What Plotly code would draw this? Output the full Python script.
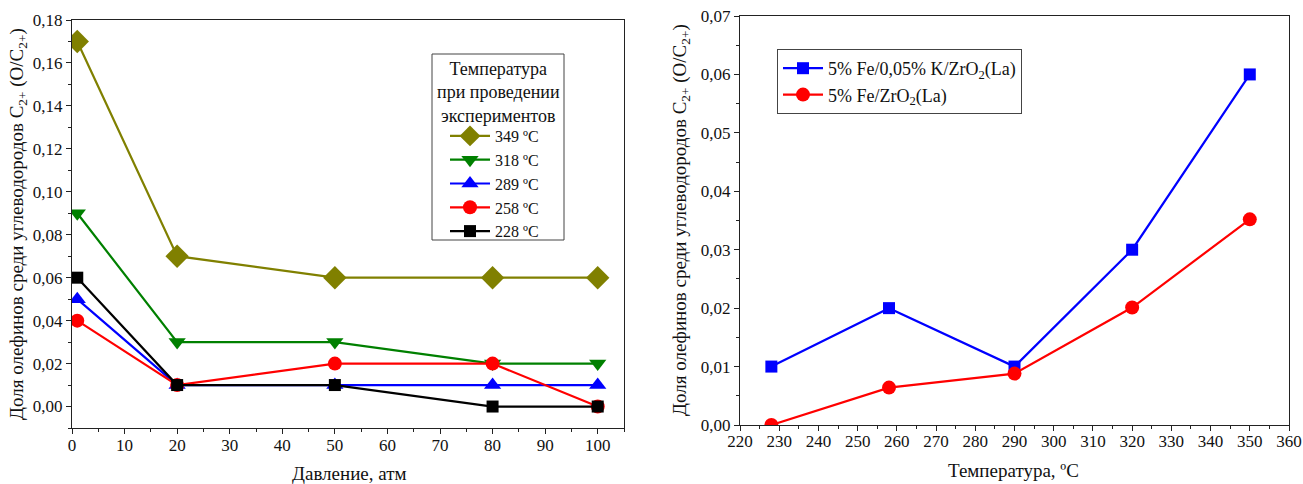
import plotly.graph_objects as go

# Left panel: olefin fraction vs pressure, one series per temperature
pressure = [1, 20, 50, 80, 100]
temp_labels = ["349 ºC", "318 ºC", "289 ºC", "258 ºC", "228 ºC"]
olefin_349 = [0.17, 0.07, 0.06, 0.06, 0.06]
olefin_318 = [0.09, 0.03, 0.03, 0.02, 0.02]
olefin_289 = [0.05, 0.01, 0.01, 0.01, 0.01]
olefin_258 = [0.04, 0.01, 0.02, 0.02, 0.00]
olefin_228 = [0.06, 0.01, 0.01, 0.00, 0.00]

# Right panel: olefin fraction vs temperature for two catalysts
temperature = [228, 258, 290, 320, 350]
cat_labels = ["5% Fe/0,05% K/ZrO<sub>2</sub>(La)", "5% Fe/ZrO<sub>2</sub>(La)"]
olefin_fe_k = [0.01, 0.02, 0.01, 0.03, 0.06]
olefin_fe = [0.0, 0.0064, 0.0088, 0.0201, 0.0352]

FONT = "Liberation Serif"
W, H = 1303, 484


def px(x):
    return x / W


def py(y):
    return 1 - y / H


fig = go.Figure()

left_series = [
    (olefin_349, "#808000", "diamond", 18),
    (olefin_318, "#008000", "triangle-down", 15),
    (olefin_289, "#0000FF", "triangle-up", 15),
    (olefin_258, "#FF0000", "circle", 14),
    (olefin_228, "#000000", "square", 12),
]
for (vals, color, sym, size), name in zip(left_series, temp_labels):
    fig.add_trace(go.Scatter(
        x=pressure, y=vals, name=name, mode="lines+markers",
        line=dict(color=color, width=2.2),
        marker=dict(color=color, symbol=sym, size=size),
        xaxis="x", yaxis="y", legend="legend",
    ))

right_series = [
    (olefin_fe_k, "#0000FF", "square", 12),
    (olefin_fe, "#FF0000", "circle", 14),
]
for (vals, color, sym, size), name in zip(right_series, cat_labels):
    fig.add_trace(go.Scatter(
        x=temperature, y=vals, name=name, mode="lines+markers",
        line=dict(color=color, width=2.2),
        marker=dict(color=color, symbol=sym, size=size),
        xaxis="x2", yaxis="y2", legend="legend2",
    ))

ytitle = "Доля олефинов среди углеводородов C<sub>2+</sub> (O/C<sub>2+</sub>)"

axis_common = dict(
    showline=True, linecolor="#222", linewidth=1.3, mirror=True,
    ticks="outside", ticklen=5, tickwidth=1.2, tickcolor="#222",
    showgrid=False, zeroline=False, automargin=False,
    tickfont=dict(family=FONT, size=17, color="#111"),
)
minor_common = dict(ticks="outside", ticklen=3, tickcolor="#222")

# Left plot area in pixels: x 72..624, y 20..428
# Right plot area in pixels: x 740..1289, y 16..425
fig.update_layout(
    width=W, height=H,
    margin=dict(l=0, r=0, t=0, b=0),
    paper_bgcolor="white", plot_bgcolor="white",
    separators=",.",
    font=dict(family=FONT, color="#111"),
    xaxis=dict(
        domain=[px(72), px(624)], range=[0, 105], anchor="y",
        tickmode="linear", tick0=0, dtick=10, ticklabelstandoff=-4,
        minor=dict(dtick=5, tick0=0, **minor_common),
        **axis_common,
    ),
    yaxis=dict(
        domain=[py(428), py(20)], range=[-0.01, 0.18], anchor="x",
        tickmode="linear", tick0=0, dtick=0.02, tickformat=".2f",
        minor=dict(dtick=0.01, tick0=0, **minor_common),
        **axis_common,
    ),
    xaxis2=dict(
        domain=[px(740), px(1289)], range=[220, 360], anchor="y2",
        tickmode="linear", tick0=220, dtick=10, ticklabelstandoff=-5,
        minor=dict(dtick=5, tick0=220, **minor_common),
        **axis_common,
    ),
    yaxis2=dict(
        domain=[py(425), py(16)], range=[0, 0.07], anchor="x2",
        tickmode="linear", tick0=0, dtick=0.01, tickformat=".2f",
        minor=dict(dtick=0.005, tick0=0, **minor_common),
        **axis_common,
    ),
    legend=dict(
        x=px(445), y=py(119), xanchor="left", yanchor="top",
        bgcolor="rgba(0,0,0,0)", borderwidth=0,
        font=dict(family=FONT, size=16, color="#111"),
        tracegroupgap=0, itemwidth=40,
    ),
    legend2=dict(
        x=px(777), y=py(49), xanchor="left", yanchor="top",
        bgcolor="white", bordercolor="#444", borderwidth=1,
        font=dict(family=FONT, size=18, color="#111"),
        tracegroupgap=0, itemwidth=40,
    ),
    showlegend=True,
)

# Axis titles
title_font = dict(family=FONT, size=19, color="#111")
fig.add_annotation(text="Давление, атм", x=px(349), y=py(473), xref="paper", yref="paper",
                   xanchor="center", yanchor="middle", showarrow=False, font=title_font)
fig.add_annotation(text="Температура, ºC", x=px(1014), y=py(470), xref="paper", yref="paper",
                   xanchor="center", yanchor="middle", showarrow=False, font=title_font)
fig.add_annotation(text=ytitle, x=px(18), y=py(224), xref="paper", yref="paper",
                   xanchor="center", yanchor="middle", textangle=-90, showarrow=False, font=title_font)
fig.add_annotation(text=ytitle, x=px(681), y=py(220), xref="paper", yref="paper",
                   xanchor="center", yanchor="middle", textangle=-90, showarrow=False, font=title_font)

# Left legend frame and its centred title
fig.add_shape(type="rect", xref="paper", yref="paper",
              x0=px(432), x1=px(564), y0=py(240), y1=py(54),
              line=dict(color="#444", width=1), fillcolor="white", layer="below")
fig.add_annotation(text="Температура<br>при проведении<br>экспериментов",
                   x=px(498), y=py(92), xref="paper", yref="paper",
                   xanchor="center", yanchor="middle", align="center", showarrow=False,
                   font=dict(family=FONT, size=18, color="#111"))

fig.write_html("out.html")
